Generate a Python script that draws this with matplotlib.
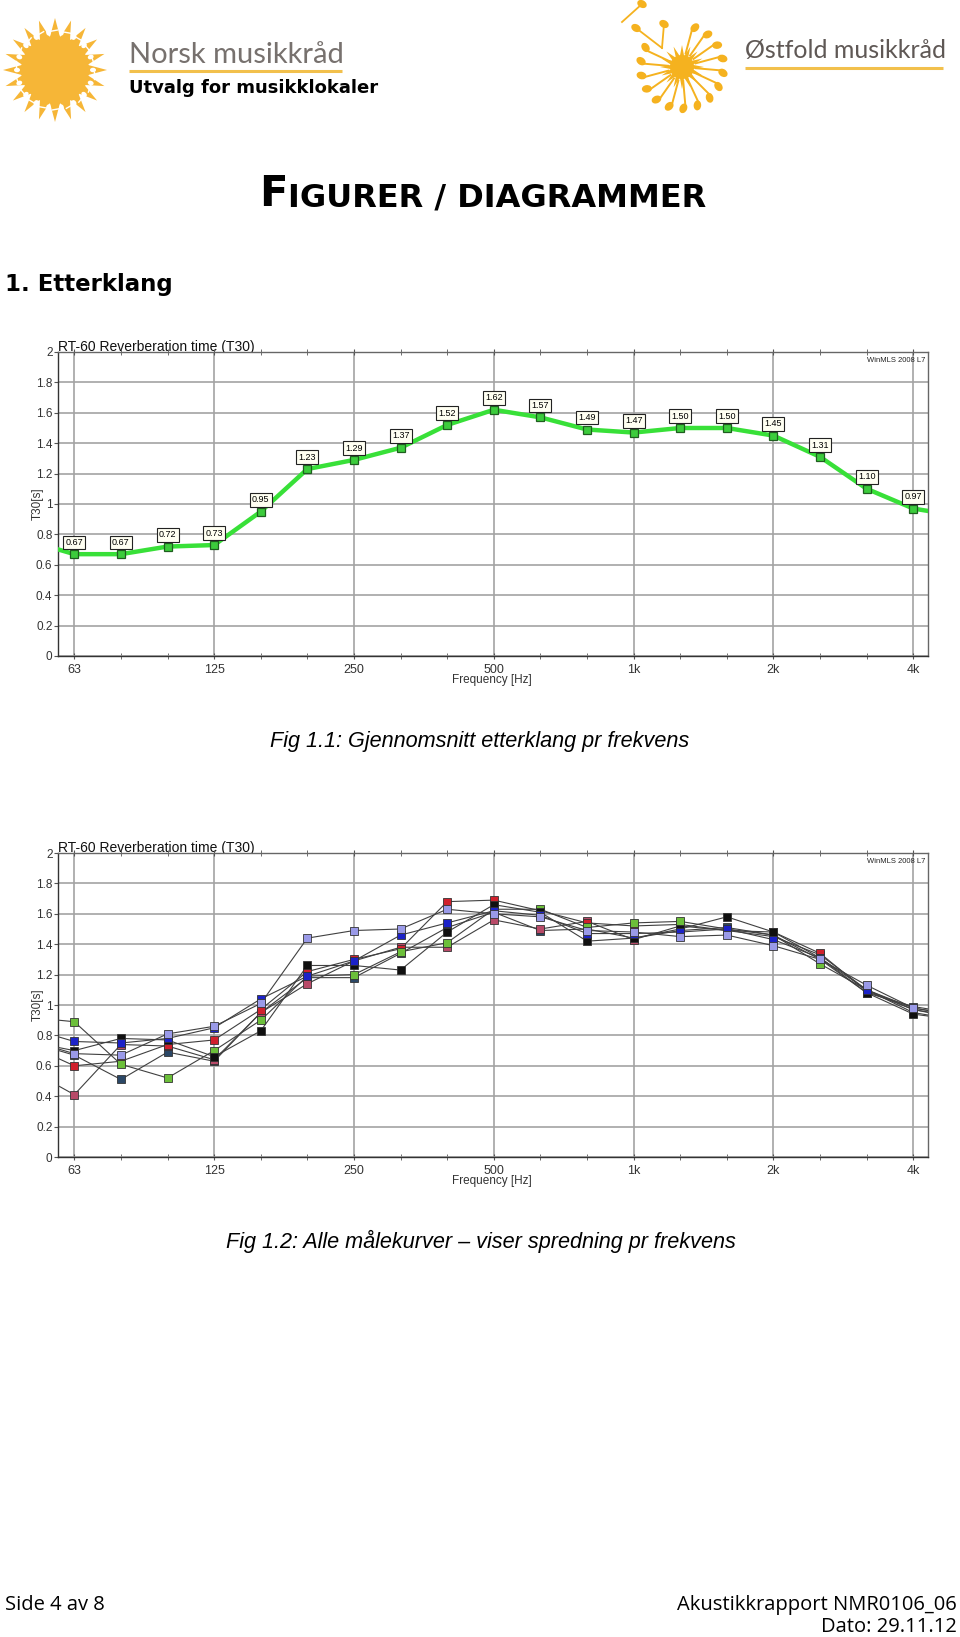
import numpy as np
import matplotlib
matplotlib.use('Agg')
import matplotlib.pyplot as plt
from matplotlib.patches import Polygon, Circle, Ellipse

# third-octave bands, 50 Hz and 5 kHz only give the curve ends outside the view
bands = ['50', '63', '80', '100', '125', '160', '200', '250', '315', '400', '500',
         '630', '800', '1k', '1.25k', '1.6k', '2k', '2.5k', '3.15k', '4k', '5k']
octave_labels = ['63', '125', '250', '500', '1k', '2k', '4k']

# Fig 1.1 - gjennomsnitt
t30_mean = [0.76, 0.67, 0.67, 0.72, 0.73, 0.95, 1.23, 1.29, 1.37, 1.52, 1.62,
            1.57, 1.49, 1.47, 1.50, 1.50, 1.45, 1.31, 1.10, 0.97, 0.92]

# Fig 1.2 - alle malekurver
t30_green = [0.92, 0.89, 0.61, 0.52, 0.70, 0.90, 1.19, 1.20, 1.35, 1.41, 1.63,
             1.63, 1.51, 1.54, 1.55, 1.50, 1.46, 1.27, 1.10, 0.95, 0.90]
t30_blue = [0.85, 0.76, 0.75, 0.78, 0.85, 1.04, 1.19, 1.29, 1.46, 1.54, 1.62,
            1.59, 1.47, 1.47, 1.48, 1.50, 1.43, 1.31, 1.10, 0.98, 0.93]
t30_lavender = [0.77, 0.68, 0.67, 0.81, 0.86, 1.01, 1.44, 1.49, 1.50, 1.63, 1.60,
                1.58, 1.49, 1.48, 1.45, 1.46, 1.39, 1.30, 1.13, 0.98, 0.93]
t30_black = [0.76, 0.70, 0.78, 0.77, 0.66, 0.83, 1.26, 1.26, 1.23, 1.48, 1.66,
             1.61, 1.42, 1.44, 1.50, 1.58, 1.48, 1.31, 1.08, 0.94, 0.90]
t30_red = [0.74, 0.60, 0.63, 0.74, 0.77, 0.97, 1.22, 1.30, 1.37, 1.68, 1.69,
           1.62, 1.54, 1.52, 1.53, 1.49, 1.48, 1.34, 1.09, 0.97, 0.92]
t30_rose = [0.58, 0.41, 0.74, 0.73, 0.64, 0.95, 1.14, 1.29, 1.38, 1.38, 1.56,
            1.50, 1.55, 1.43, 1.52, 1.49, 1.45, 1.33, 1.10, 0.97, 0.91]
t30_slate = [0.76, 0.67, 0.51, 0.69, 0.63, 0.95, 1.18, 1.18, 1.34, 1.51, 1.61,
             1.49, 1.50, 1.44, 1.49, 1.51, 1.46, 1.30, 1.08, 0.99, 0.94]

curves = [(t30_slate, '#2b4766'), (t30_rose, '#b84a68'), (t30_red, '#d0202c'),
          (t30_green, '#6cbf3a'), (t30_black, '#101010'), (t30_blue, '#1c22c8'),
          (t30_lavender, '#9a9ae8')]

W, H = 960, 1637
fig = plt.figure(figsize=(W / 100, H / 100), dpi=100)
fig.patch.set_facecolor('white')

# page layer in pixel coordinates
page = fig.add_axes([0, 0, 1, 1])
page.set_xlim(0, W)
page.set_ylim(H, 0)
page.axis('off')

SANS = ['Liberation Sans', 'DejaVu Sans']
x = np.arange(len(bands)) - 1  # 63 Hz at 0


def star(cx, cy, n, r_out, r_in, rot=0.0):
    pts = []
    for k in range(2 * n):
        r = r_out if k % 2 == 0 else r_in
        a = rot + np.pi * k / n
        pts.append((cx + r * np.cos(a), cy + r * np.sin(a)))
    return pts


# --- logo venstre
sun = '#f6b637'
page.add_patch(Polygon(star(55, 70, 20, 52, 33), closed=True, fc=sun, ec='none'))
page.add_patch(Circle((55, 70), 34, fc=sun, ec='none'))
for a in np.linspace(0, 2 * np.pi, 18, endpoint=False):
    hx, hy = 55 + 38 * np.cos(a), 70 + 38 * np.sin(a)
    page.add_patch(Ellipse((hx, hy), 6, 4.5, angle=np.degrees(a), fc='white', ec='none'))
    page.plot([hx + 2.5 * np.cos(a + 1.2), hx + 2.5 * np.cos(a + 1.2) + 7 * np.cos(a + np.pi / 2)],
              [hy + 2.5 * np.sin(a + 1.2), hy + 2.5 * np.sin(a + 1.2) + 7 * np.sin(a + np.pi / 2)],
              color='white', lw=1.0)
page.text(129, 63, 'Norsk musikkråd', fontsize=21, color='#77716e',
          family=['Lato', 'DejaVu Sans'], ha='left', va='baseline')
page.plot([129, 342], [71, 71], color='#f2c04c', lw=2.2, solid_capstyle='butt')
page.text(129, 93, 'Utvalg for musikklokaler', fontsize=13, weight='bold',
          family=['DejaVu Sans'], ha='left', va='baseline')

# --- logo hoyre
sun2 = '#f5b21f'
cx, cy = 682, 67
page.add_patch(Polygon(star(cx, cy, 16, 22, 11), closed=True, fc=sun2, ec='none'))
page.add_patch(Circle((cx, cy), 12, fc=sun2, ec='none'))
for deg in np.arange(-75, 215, 20):
    a = np.radians(deg)
    ex, ey = cx + 38 * np.cos(a), cy + 38 * np.sin(a)
    page.plot([cx + 14 * np.cos(a), ex], [cy + 14 * np.sin(a), ey], color=sun2, lw=1.4)
    page.add_patch(Ellipse((ex + 4 * np.cos(a + 0.6), ey + 4 * np.sin(a + 0.6)), 10, 7.5,
                           angle=deg + 30, fc=sun2, ec='none'))
for (hx, hy), (tx, ty) in [((636, 28), (662, 48)), ((664, 24), (662, 48)), ((642, 4), (622, 22))]:
    page.plot([hx, tx], [hy, ty], color=sun2, lw=1.3)
    page.add_patch(Ellipse((hx, hy), 10, 7.5, angle=30, fc=sun2, ec='none'))
page.text(745, 58, 'Østfold musikkråd', fontsize=18, color='#5f5855',
          family=['Lato', 'DejaVu Sans'], ha='left', va='baseline')
page.plot([745, 943], [68, 68], color='#f2c04c', lw=2.2, solid_capstyle='butt')

# --- overskrifter
t_f = page.text(259, 206, 'F', fontsize=30, weight='bold', family=['DejaVu Sans'],
                ha='left', va='baseline')
renderer = fig.canvas.get_renderer()
bb = t_f.get_window_extent(renderer)
page.text(bb.x1 + 1, 206, 'IGURER / DIAGRAMMER', fontsize=23, weight='bold',
          family=['DejaVu Sans'], ha='left', va='baseline')
page.text(5, 284, '1. Etterklang', fontsize=16.5, family=['DejaVu Sans'], weight='bold',
          ha='left', va='center')


def chart(y0, y1):
    ax = fig.add_axes([58 / W, 1 - y1 / H, 870 / W, (y1 - y0) / H])
    ax.set_xlim(-0.35, 18.315)
    ax.set_ylim(0, 2)
    yt = np.arange(0, 2.01, 0.2)
    ax.set_yticks(yt)
    ax.set_yticklabels(['%g' % v for v in np.round(yt, 1)])
    oct_pos = [bands.index(b) - 1 for b in octave_labels]
    ax.set_xticks(oct_pos)
    ax.set_xticklabels(octave_labels)
    ax.set_xticks(np.arange(19), minor=True)
    ax.grid(True, which='major', color='#a3a3a3', lw=1.2)
    ax.tick_params(axis='x', which='both', top=True, direction='inout', length=5,
                   color='#555555', labelsize=9, labelcolor='#333333', pad=3)
    ax.tick_params(axis='y', direction='out', length=3, color='#555555',
                   labelsize=8.5, labelcolor='#333333', pad=1)
    for lab in ax.get_xticklabels() + ax.get_yticklabels():
        lab.set_family(SANS)
    for s in ax.spines.values():
        s.set_color('#666666')
        s.set_linewidth(1.0)
    ax.spines['left'].set_color('#333333')
    ax.spines['bottom'].set_color('#333333')
    ax.set_axisbelow(True)
    page.text(58, y0 - 1, 'RT-60 Reverberation time (T30)', fontsize=10, family=SANS,
              ha='left', va='baseline', color='#111111')
    ax.text(0.997, 0.985, 'WinMLS 2008 L7', transform=ax.transAxes, fontsize=5.5,
            family=SANS, ha='right', va='top', color='#222222')
    page.text(38, (y0 + y1) / 2, 'T30[s]', rotation=90, fontsize=8.5, family=SANS,
              ha='center', va='center', color='#333333')
    page.text(492, y1 + 24, 'Frequency [Hz]', fontsize=8.5, family=SANS,
              ha='center', va='center', color='#333333')
    return ax


# --- Fig 1.1
ax1 = chart(352, 656)
ax1.plot(x, t30_mean, color='#38e038', lw=3.2, solid_joinstyle='round', zorder=3)
ax1.plot(x[1:-1], t30_mean[1:-1], ls='none', marker='s', ms=5.5, mfc='#3ccc3c',
         mec='#1f5e1f', mew=0.9, zorder=4)
for xi, v in zip(x[1:-1], t30_mean[1:-1]):
    ax1.annotate('%.2f' % v, (xi, v), xytext=(0, 8.5), textcoords='offset points',
                 ha='center', va='center', fontsize=6.5, family=SANS, zorder=5,
                 bbox=dict(boxstyle='square,pad=0.25', fc='#fffff2', ec='#222222', lw=0.8))

page.text(480, 741, 'Fig 1.1: Gjennomsnitt etterklang pr frekvens', fontsize=15.6,
          style='italic', family=SANS, ha='center', va='center')

# --- Fig 1.2
ax2 = chart(853, 1157)
for vals, col in curves:
    ax2.plot(x, vals, color='#404040', lw=0.8, zorder=3)
for vals, col in curves:
    ax2.plot(x[1:-1], vals[1:-1], ls='none', marker='s', ms=5.5, mfc=col,
             mec='#333333', mew=0.6, zorder=4)

page.text(481, 1241, 'Fig 1.2: Alle målekurver – viser spredning pr frekvens', fontsize=15.6,
          style='italic', family=SANS, ha='center', va='center')

# --- bunntekst
FOOT = ['Open Sans', 'DejaVu Sans']
page.text(5, 1605, 'Side 4 av 8', fontsize=14.5, family=FOOT, ha='left', va='center')
page.text(957, 1605, 'Akustikkrapport NMR0106_06', fontsize=14.5, family=FOOT,
          ha='right', va='center')
page.text(957, 1627, 'Dato: 29.11.12', fontsize=14.5, family=FOOT, ha='right', va='center')

fig.savefig('out.png', dpi=100, facecolor='white')
